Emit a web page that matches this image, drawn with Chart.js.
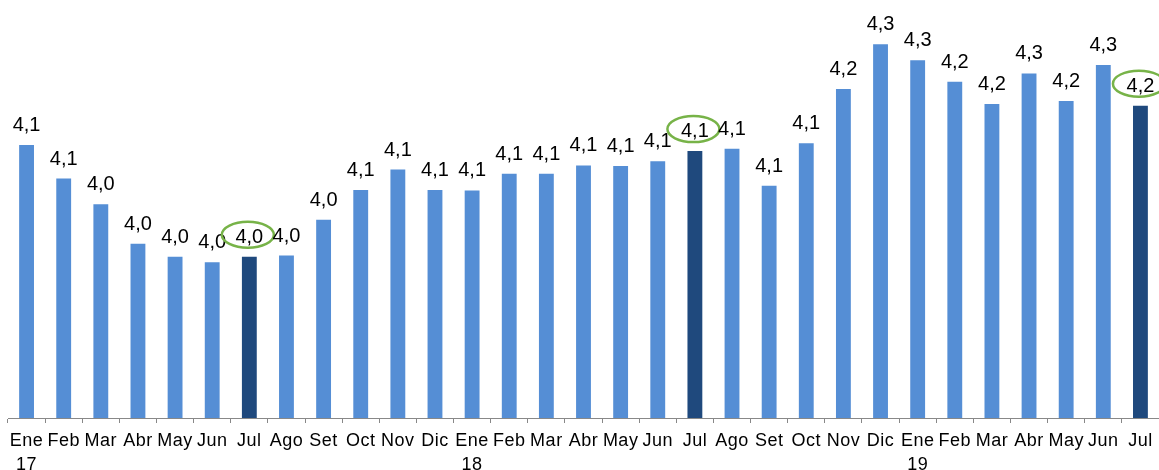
<!DOCTYPE html>
<html>
<head>
<meta charset="utf-8">
<script src="https://cdn.jsdelivr.net/npm/chart.js@4.4.0/dist/chart.umd.min.js"></script>
<style>
  html, body { margin: 0; padding: 0; background: #fff; }
  #wrap { width: 1159px; height: 470px; position: relative; }
</style>
</head>
<body>
<div id="wrap"><canvas id="desempleoChart"></canvas></div>
<script>
// meses y años (Ene 17 - Jul 19)
var meses = [
    ['Ene', '17'], 'Feb', 'Mar', 'Abr', 'May', 'Jun', 'Jul', 'Ago', 'Set', 'Oct', 'Nov', 'Dic',
    ['Ene', '18'], 'Feb', 'Mar', 'Abr', 'May', 'Jun', 'Jul', 'Ago', 'Set', 'Oct', 'Nov', 'Dic',
    ['Ene', '19'], 'Feb', 'Mar', 'Abr', 'May', 'Jun', 'Jul'
];

var valores = [
    4.137, 4.081, 4.038, 3.972, 3.950, 3.941, 3.950, 3.952, 4.012, 4.062, 4.096, 4.062,
    4.061, 4.089, 4.089, 4.103, 4.102, 4.110, 4.127, 4.131, 4.069, 4.140, 4.231, 4.306,
    4.279, 4.243, 4.206, 4.257, 4.211, 4.271, 4.203
];

// etiquetas tal como aparecen sobre las barras
var etiquetas = [
    '4,1', '4,1', '4,0', '4,0', '4,0', '4,0', '4,0', '4,0', '4,0', '4,1', '4,1', '4,1',
    '4,1', '4,1', '4,1', '4,1', '4,1', '4,1', '4,1', '4,1', '4,1', '4,1', '4,2', '4,3',
    '4,3', '4,2', '4,2', '4,3', '4,2', '4,3', '4,2'
];

// meses resaltados (Jul de cada año)
var resaltados = [6, 18, 30];

var colorBarra = '#558ed5';
var colorJul = '#1f497d';

var colores = valores.map(function (v, i) {
    return resaltados.indexOf(i) >= 0 ? colorJul : colorBarra;
});

// dibuja los valores y los ovalos verdes
var etiquetasPlugin = {
    id: 'etiquetas',
    beforeDraw: function (chart) {
        // texto del eje un poco mas ancho, como en el original
        chart.ctx.letterSpacing = '0.5px';
    },
    afterDatasetsDraw: function (chart) {
        var ctx = chart.ctx;
        var meta = chart.getDatasetMeta(0);
        ctx.save();
        ctx.letterSpacing = '0px';
        ctx.font = '20px "Liberation Sans", Arial, sans-serif';
        ctx.fillStyle = '#000';
        ctx.textAlign = 'center';
        ctx.textBaseline = 'alphabetic';
        meta.data.forEach(function (bar, i) {
            ctx.fillText(etiquetas[i], bar.x, bar.y - 14);
            if (resaltados.indexOf(i) >= 0) {
                ctx.beginPath();
                ctx.ellipse(bar.x - 1.5, bar.y - 22, 26, 13, 0, 0, Math.PI * 2);
                ctx.strokeStyle = '#77b348';
                ctx.lineWidth = 2.5;
                ctx.stroke();
            }
        });
        ctx.restore();
    }
};

var ctx = document.getElementById('desempleoChart').getContext('2d');
var desempleoChart = new Chart(ctx, {
    type: 'bar',
    data: {
        labels: meses,
        datasets: [{
            data: valores,
            backgroundColor: colores,
            borderWidth: 0,
            categoryPercentage: 1,
            barPercentage: 0.4
        }]
    },
    options: {
        responsive: true,
        maintainAspectRatio: false,
        animation: false,
        layout: { padding: { left: 8, right: 0, top: 0, bottom: 0 } },
        plugins: {
            legend: { display: false },
            tooltip: { enabled: false }
        },
        scales: {
            x: {
                grid: {
                    offset: true,
                    drawOnChartArea: false,
                    color: '#888',
                    tickLength: 5
                },
                border: { color: '#888', width: 1 },
                ticks: {
                    color: '#000',
                    maxRotation: 0,
                    autoSkip: false,
                    padding: 6.5,
                    font: { family: '"Liberation Sans", Arial, sans-serif', size: 18, lineHeight: 1.3 }
                },
                afterFit: function (scale) { scale.height = 52; }
            },
            y: {
                display: false,
                min: 3.68,
                max: 4.38
            }
        }
    },
    plugins: [etiquetasPlugin]
});
</script>
</body>
</html>
